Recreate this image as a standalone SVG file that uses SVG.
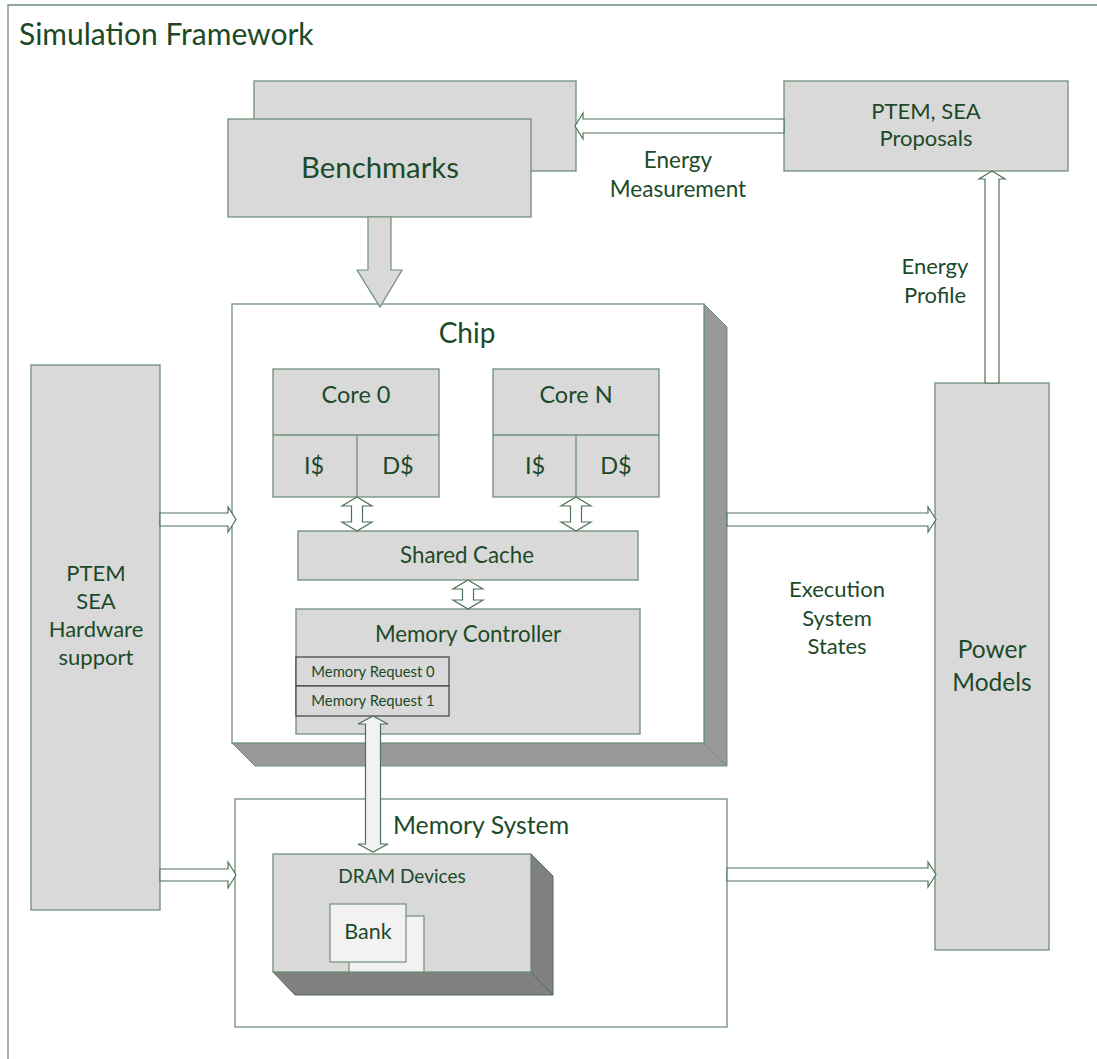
<svg xmlns="http://www.w3.org/2000/svg" width="1097" height="1059" viewBox="0 0 1097 1059">
<style>
.box{fill:#d9d9d9;stroke:#6f8f78;stroke-width:1.3}
.wbox{fill:#ffffff;stroke:#6f8f78;stroke-width:1.3}
.side{fill:#999999;stroke:#6f8f78;stroke-width:1}
.dside{fill:#808080;stroke:#4f6f58;stroke-width:1}
.req{fill:#d9d9d9;stroke:#404040;stroke-width:1.2}
.bank{fill:#f2f2f2;stroke:#6f8f78;stroke-width:1.2}
.arr{fill:#ffffff;stroke:#4f7359;stroke-width:1.2;stroke-linejoin:miter}
.garr{fill:#d9d9d9;stroke:#6f8f78;stroke-width:1.2}
.larr{fill:#f2f2f2;stroke:#4f7359;stroke-width:1.2}
.t{font-family:Lato,"Liberation Sans",sans-serif;fill:#1c4a29;text-anchor:middle;font-size:22px}
</style>
<rect x="0" y="0" width="1097" height="1059" fill="#ffffff"/>
<g id="frame">
<path d="M8,1059 V5 H1097" fill="none" stroke="#6f8f78" stroke-width="1.3"/>
<text class="t" x="19" y="45" style="text-anchor:start;font-size:30px">Simulation Framework</text>
</g>
<g id="benchmarks">
<rect class="box" x="254" y="81" width="322" height="90"/>
<rect class="box" x="228" y="119" width="303" height="98"/>
<text class="t" x="380" y="178" style="font-size:29.3px">Benchmarks</text>
</g>
<g id="proposals">
<rect class="box" x="784" y="81" width="284" height="90"/>
<text class="t" x="926" y="119">PTEM, SEA</text>
<text class="t" x="926" y="146">Proposals</text>
</g>
<g id="chip">
<polygon class="side" points="704,304 727,327 727,766 704,743"/>
<polygon class="side" points="232,743 704,743 727,766 255,766"/>
<rect class="wbox" x="232" y="304" width="472" height="439"/>
<text class="t" x="467" y="343" style="font-size:28px">Chip</text>
</g>
<g id="core0">
<rect class="box" x="273" y="369" width="166" height="128"/>
<line x1="273" y1="435" x2="439" y2="435" stroke="#6f8f78" stroke-width="1.3"/>
<line x1="357" y1="435" x2="357" y2="497" stroke="#6f8f78" stroke-width="1.3"/>
<text class="t" x="356" y="403" style="font-size:23.5px">Core 0</text>
<text class="t" x="314" y="474" style="font-size:23.5px">I$</text>
<text class="t" x="398" y="474" style="font-size:23.5px">D$</text>
</g>
<g id="coreN">
<rect class="box" x="493" y="369" width="166" height="128"/>
<line x1="493" y1="435" x2="659" y2="435" stroke="#6f8f78" stroke-width="1.3"/>
<line x1="576" y1="435" x2="576" y2="497" stroke="#6f8f78" stroke-width="1.3"/>
<text class="t" x="576" y="403" style="font-size:23.5px">Core N</text>
<text class="t" x="535" y="474" style="font-size:23.5px">I$</text>
<text class="t" x="616" y="474" style="font-size:23.5px">D$</text>
</g>
<g id="shared-cache">
<rect class="box" x="298" y="531" width="340" height="49"/>
<text class="t" x="467" y="563" style="font-size:22.3px">Shared Cache</text>
</g>
<g id="memory-controller">
<rect class="box" x="296" y="609" width="344" height="125"/>
<text class="t" x="468" y="642" style="font-size:22.3px">Memory Controller</text>
<rect class="req" x="296" y="657" width="153" height="29"/>
<rect class="req" x="296" y="686" width="153" height="30"/>
<text class="t" x="373" y="677" style="font-size:14.8px">Memory Request 0</text>
<text class="t" x="373" y="706" style="font-size:14.8px">Memory Request 1</text>
</g>
<g id="memory-system">
<rect class="wbox" x="235" y="799" width="492" height="228"/>
<text class="t" x="481" y="834" style="font-size:24.8px">Memory System</text>
</g>
<g id="dram">
<polygon class="dside" points="531,854 553,876 553,995 531,972"/>
<polygon class="dside" points="273,972 531,972 553,995 295,995"/>
<rect class="box" x="273" y="854" width="258" height="118"/>
<text class="t" x="402" y="883" style="font-size:19px">DRAM Devices</text>
</g>
<g id="bank">
<rect class="bank" x="349" y="916" width="75" height="56"/>
<rect class="bank" x="330" y="904" width="76" height="58"/>
<text class="t" x="368" y="939" style="font-size:21.5px">Bank</text>
</g>
<g id="hw-support">
<rect class="box" x="31" y="365" width="129" height="545"/>
<text class="t" x="96" y="581">PTEM</text>
<text class="t" x="96" y="609">SEA</text>
<text class="t" x="96" y="637">Hardware</text>
<text class="t" x="96" y="665">support</text>
</g>
<g id="power-models">
<rect class="box" x="935" y="383" width="114" height="567"/>
<text class="t" x="992" y="658" style="font-size:24.5px">Power</text>
<text class="t" x="992" y="691" style="font-size:24.5px">Models</text>
</g>
<g id="connectors">
<polygon class="garr" points="368,217 391,217 391,270 402,270 380,307 357,270 368,270"/>
<polygon class="arr" points="784,119 583,119 583,113 575,126 583,139 583,133 784,133"/>
<polygon class="arr" points="985,383 985,179 979,179 992,171 1005,179 999,179 999,383"/>
<polygon class="arr" points="160,513 228,513 228,507 236,519.5 228,532 228,526 160,526"/>
<polygon class="arr" points="160,869 228,869 228,862 236,875 228,888 228,881 160,881"/>
<polygon class="arr" points="727,513 928,513 928,507 936,519.5 928,532 928,526 727,526"/>
<polygon class="arr" points="727,868 928,868 928,862 936,874.5 928,887 928,881 727,881"/>
<polygon class="arr" points="357,497 372,506 362.5,506 362.5,522 372,522 357,531 342,522 351.5,522 351.5,506 342,506"/>
<polygon class="arr" points="576,497 591,506 581.5,506 581.5,522 591,522 576,531 561,522 570.5,522 570.5,506 561,506"/>
<polygon class="arr" points="468,580 483,589 473.5,589 473.5,600 483,600 468,609 453,600 462.5,600 462.5,589 453,589"/>
<polygon class="larr" points="373,716 388,724 380.5,724 380.5,844 388,844 373,852 358,844 365.5,844 365.5,724 358,724"/>
</g>
<g id="labels">
<text class="t" x="678" y="168" style="font-size:22.5px">Energy</text>
<text class="t" x="678" y="197" style="font-size:22.5px">Measurement</text>
<text class="t" x="935" y="274">Energy</text>
<text class="t" x="935" y="303">Profile</text>
<text class="t" x="837" y="597">Execution</text>
<text class="t" x="837" y="626">System</text>
<text class="t" x="837" y="654">States</text>
</g>
</svg>
